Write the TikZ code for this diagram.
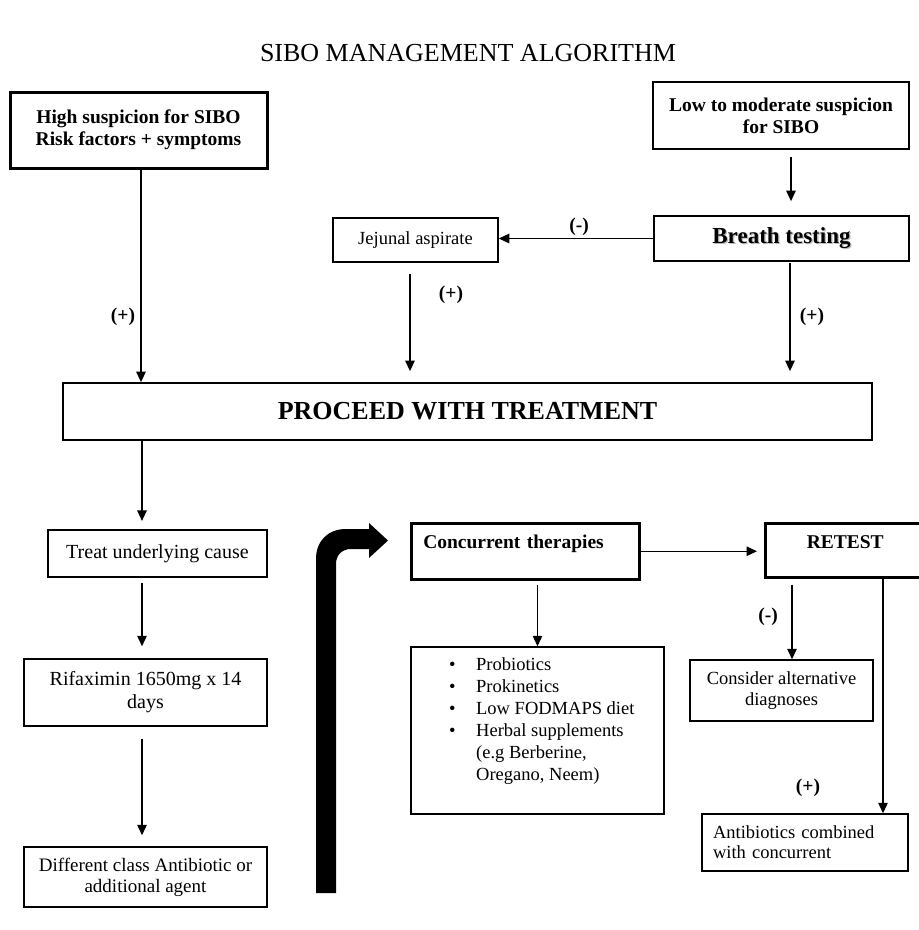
\documentclass[tikz,border=0pt]{standalone}
\usepackage[svgnames, dvipsnames, usenames]{xcolor}
\usepackage{fontspec}
\setmainfont{Liberation Serif}
\usepackage{tikz}
\usetikzlibrary{arrows.meta}

\begin{document}
\begin{tikzpicture}[x=1pt, y=-1pt,
  box/.style={draw, line width=1.5pt, inner sep=0pt, align=center},
  arr/.style={line width=1.3pt, -{Triangle[length=10.5pt,width=9.5pt]}},
  sign/.style={font=\fontsize{19.5}{22}\selectfont\bfseries},
  txt/.style={font=\fontsize{18.5}{22}\selectfont},
  btxt/.style={font=\fontsize{19.5}{22}\selectfont\bfseries}]
\useasboundingbox (0,0) rectangle (919,930);
%%%%% Title %%%%%
\node[font=\fontsize{26}{30}\selectfont] (title) at (468,53) {SIBO MANAGEMENT ALGORITHM};
%%%%% Diagnosis %%%%%
\node[box, btxt, line width=3pt, minimum width=257, minimum height=76] (high) at (138.5,130) {High suspicion for SIBO\\Risk factors + symptoms};
\node[box, btxt, minimum width=256, minimum height=67] (low) at (781,115.5) {Low to moderate suspicion\\for SIBO};
\node[box, line width=1.8pt, font=\fontsize{23}{26}\selectfont\bfseries, minimum width=255, minimum height=45] (breath) at (781.5,238.5)
  {\rlap{\hspace{1.3pt}\raisebox{-1.3pt}{\color{gray!55}Breath testing}}Breath testing};
\node[box, txt, minimum width=165, minimum height=44] (jejunal) at (415.5,240) {Jejunal aspirate};
\node[box, line width=1.8pt, font=\fontsize{26}{30}\selectfont\bfseries, minimum width=809, minimum height=57] (proceed) at (467.5,411.5) {PROCEED WITH TREATMENT};
\coordinate (hs) at ([xshift=2.5pt]high.south);
\draw[arr] (hs) -- (hs |- proceed.north);
\coordinate (ls) at ([xshift=10pt]low.south);
\draw[arr, shorten <=7pt, shorten >=14pt] (ls) -- (ls |- breath.north);
\draw[arr] (breath.west) -- (breath.west -| jejunal.east);
\coordinate (js) at ([xshift=-5.5pt]jejunal.south);
\draw[arr, shorten <=11pt, shorten >=11pt] (js) -- (js |- proceed.north);
\coordinate (bs) at ([xshift=8.5pt]breath.south);
\draw[arr, shorten <=1pt, shorten >=11pt] (bs) -- (bs |- proceed.north);
\node[sign] (plushigh) at (123,317) {(+)};
\node[sign] (minusbreath) at (579,227) {(-)};
\node[sign] (plusjejunal) at (451,295) {(+)};
\node[sign] (plusbreath) at (812,317) {(+)};
%%%%% Treatment %%%%%
\node[box, font=\fontsize{20}{23}\selectfont, line width=2.2pt, minimum width=219, minimum height=47] (cause) at (157.5,553.5) {Treat underlying cause};
\node[box, font=\fontsize{20}{23}\selectfont, minimum width=243, minimum height=67] (rifax) at (145.5,692.5) {Rifaximin 1650mg x 14\\days};
\node[box, font=\fontsize{19}{21}\selectfont, minimum width=243, minimum height=60] (diffclass) at (145.5,877) {Different class Antibiotic or\\additional agent};
\coordinate (ps) at ([xshift=-15.5pt]cause.north);
\draw[arr, shorten >=8pt] (ps |- proceed.south) -- (ps);
\coordinate (cs) at ([xshift=-3.5pt]rifax.north);
\draw[arr, shorten <=5pt, shorten >=12pt] (cs |- cause.south) -- (cs);
\draw[arr, shorten <=12pt, shorten >=11pt] ([xshift=-3.5pt]rifax.south) -- ([xshift=-3.5pt]diffclass.north);
%%%%% Big arrow %%%%%
\fill (316,893) -- (316,559) .. controls (316,541) and (328,529) .. (346,529) -- (369,529) -- (369,523)
  -- (388,540.5) -- (369,558) -- (369,549) -- (351,549) .. controls (342,549) and (336,555) .. (336,564) -- (336,893) -- cycle;
%%%%% Follow up %%%%%
\node[box, btxt, line width=2.5pt, anchor=north west, text width=204pt, align=left, inner xsep=12pt,
  text height=25.5pt, text depth=30.5pt] (concurrent) at (410,522) {Concurrent therapies};
\node[box, btxt, line width=2.5pt, anchor=north west, text width=136pt, inner xsep=12pt,
  text height=25pt, text depth=29pt] (retest) at (764,522) {RETEST};
\node[box, minimum width=253, minimum height=167] (probio) at (537.5,730.5) {};
\node[txt, anchor=north west, align=left, inner sep=0pt] (probiolist) at (449,657) {%
  \makebox[27pt][l]{\textbullet}Probiotics\\
  \makebox[27pt][l]{\textbullet}Prokinetics\\
  \makebox[27pt][l]{\textbullet}Low FODMAPS diet\\
  \makebox[27pt][l]{\textbullet}Herbal supplements\\
  \hspace*{27pt}(e.g Berberine,\\
  \hspace*{27pt}Oregano, Neem)};
\node[box, txt, font=\fontsize{18.5}{21}\selectfont, minimum width=183, minimum height=61] (consider) at (781.5,690.5) {Consider alternative\\diagnoses};
\node[box, txt, font=\fontsize{18.5}{20}\selectfont, text width=184pt, align=left, inner xsep=11pt, minimum height=57] (antibio) at (805,842.5) {Antibiotics combined\\with concurrent};
\draw[arr, shorten >=7pt] (concurrent.east) -- (concurrent.east -| retest.west);
\draw[arr, shorten <=4pt] (probio.north |- concurrent.south) -- (probio.north);
\coordinate (rc) at ([xshift=10.5pt]consider.north);
\draw[arr, shorten <=6pt] (rc |- retest.south) -- (rc);
\coordinate (ra) at ([xshift=78pt]antibio.north);
\draw[arr] (ra |- retest.south) -- (ra);
\node[sign] (minusretest) at (768,617) {(-)};
\node[sign] (plusretest) at (808,788) {(+)};
\end{tikzpicture}
\end{document}
